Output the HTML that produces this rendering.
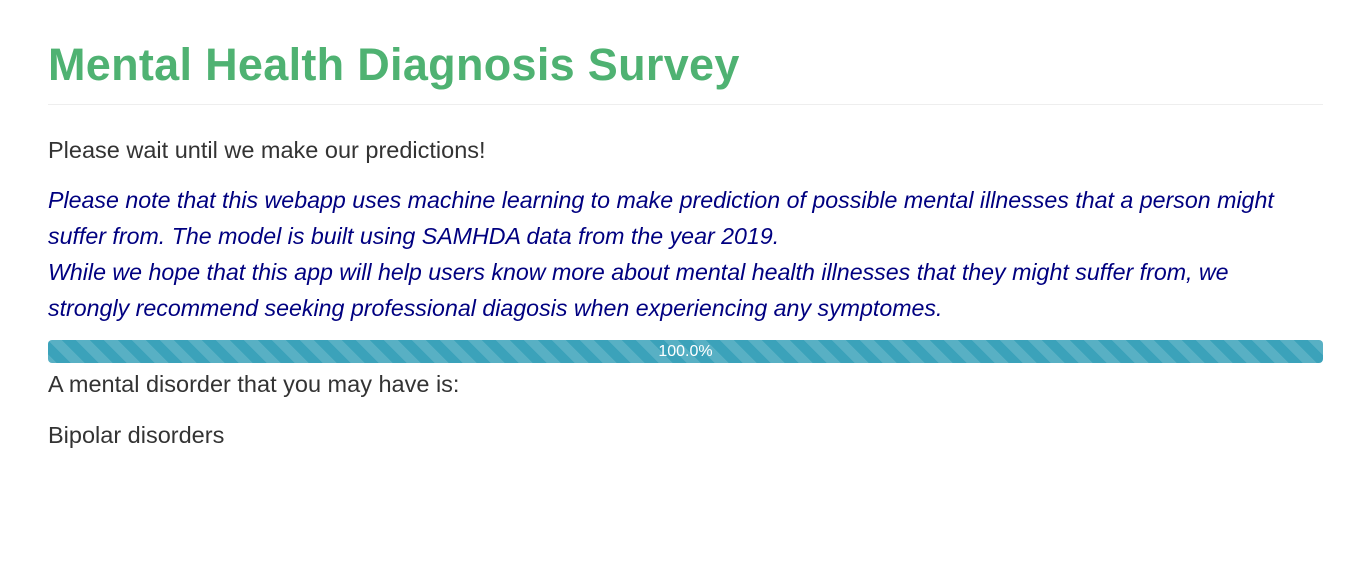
<!DOCTYPE html>
<html><head><meta charset="utf-8"><style>
body{margin:0;width:1357px;height:561px;background:#fff;font-family:"Liberation Sans",sans-serif;color:#333;overflow:hidden;position:relative}
.a{position:absolute;left:48px;white-space:nowrap}
h1{position:absolute;left:48px;top:37px;margin:0;font-size:45px;line-height:56px;font-weight:bold;color:#4fb272;letter-spacing:0.3px}
.hr{position:absolute;left:48px;top:104px;width:1275px;height:1px;background:#eee}
.t{font-size:23.5px;line-height:30px;color:#333}
.i{font-size:23.2px;font-style:italic;color:#000080;line-height:36px}
.bar{position:absolute;left:48px;top:340px;width:1275px;height:23px;border-radius:4px;background-color:#3ba2ba;
background-image:linear-gradient(45deg,rgba(255,255,255,.15) 25%,transparent 25%,transparent 50%,rgba(255,255,255,.15) 50%,rgba(255,255,255,.15) 75%,transparent 75%,transparent);background-size:28px 28px;color:#fff;font-size:16px;text-align:center;line-height:23px}
</style></head><body>
<h1>Mental Health Diagnosis Survey</h1>
<div class="hr"></div>
<div class="a t" style="top:135px">Please wait until we make our predictions!</div>
<div class="a i" style="top:182px">Please note that this webapp uses machine learning to make prediction of possible mental illnesses that a person might<br>suffer from. The model is built using SAMHDA data from the year 2019.<br>While we hope that this app will help users know more about mental health illnesses that they might suffer from, we<br>strongly recommend seeking professional diagosis when experiencing any symptomes.</div>
<div class="bar">100.0%</div>
<div class="a t" style="top:369px">A mental disorder that you may have is:</div>
<div class="a t" style="top:420px">Bipolar disorders</div>
</body></html>
